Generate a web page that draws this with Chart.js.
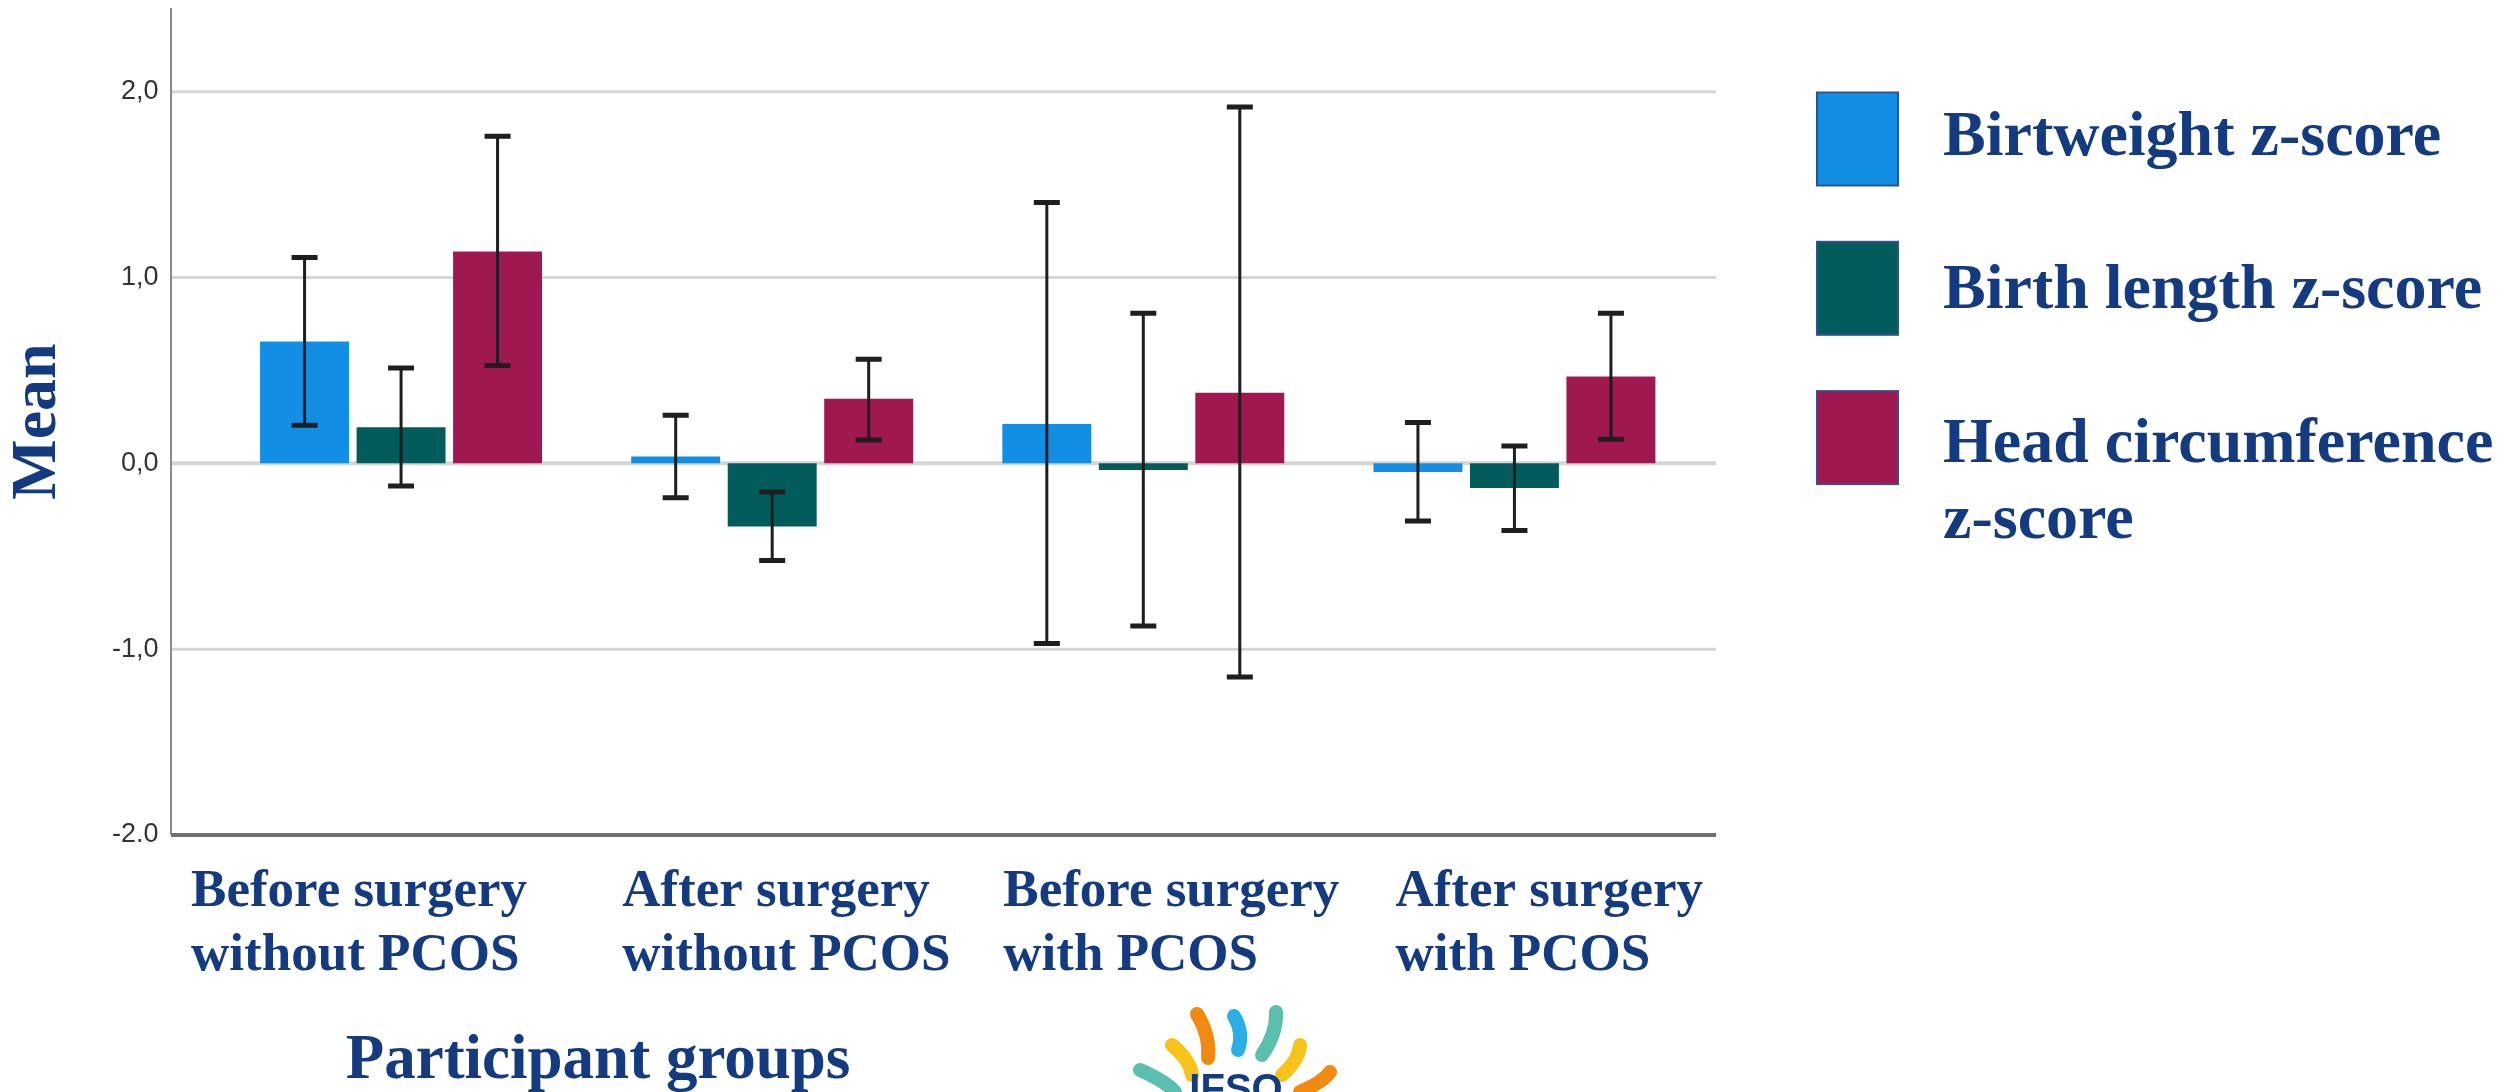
<!DOCTYPE html>
<html>
<head>
<meta charset="utf-8">
<script src="https://cdn.jsdelivr.net/npm/chart.js@4.4.0/dist/chart.umd.min.js"></script>
<style>
  html, body { margin: 0; padding: 0; background: #fff; }
  canvas { display: block; }
</style>
</head>
<body>
<canvas id="myChart" width="2502" height="1092" style="width:2502px;height:1092px"></canvas>
<script>
// --- data ---
const groups = [
  ['Before surgery', 'without PCOS'],
  ['After surgery', 'without PCOS'],
  ['Before surgery', 'with PCOS'],
  ['After surgery', 'with PCOS']
];
const seriesNames = ['Birtweight z-score', 'Birth length z-score', 'Head circumference z-score'];
const legendLines = [['Birtweight z-score'], ['Birth length z-score'], ['Head circumference', 'z-score']];

const weightMean = [0.655, 0.036, 0.212, -0.047];
const weightLow  = [0.205, -0.185, -0.97, -0.31];
const weightHigh = [1.108, 0.259, 1.404, 0.219];

const lengthMean = [0.194, -0.34, -0.036, -0.133];
const lengthLow  = [-0.122, -0.523, -0.876, -0.362];
const lengthHigh = [0.513, -0.154, 0.808, 0.093];

const headMean = [1.14, 0.347, 0.38, 0.467];
const headLow  = [0.526, 0.126, -1.15, 0.129];
const headHigh = [1.76, 0.56, 1.917, 0.808];

const yTicks = [-2, -1, 0, 1, 2];
const yTickLabels = ['-2.0', '-1,0', '0,0', '1,0', '2,0'];
const yAxisTitle = 'Mean';
const xAxisTitle = 'Participant groups';

// --- styles ---
const navy = '#143a80';
const serif = '"Liberation Serif", "Times New Roman", serif';
const colors = ['#128ee5', '#035c5c', '#a01850'];
const labelShift = [-210, -150, -140, -119];   // category labels are left aligned, hand placed
const axisLeft = 171, axisRight = 1716;

const plotDecor = {
  id: 'plotDecor',
  beforeDatasetsDraw(chart) {
    const { ctx, scales: { y } } = chart;
    ctx.save();
    yTicks.forEach(v => {
      const py = y.getPixelForValue(v);
      ctx.beginPath();
      if (v === yTicks[0]) {
        ctx.strokeStyle = '#707070';
        ctx.lineWidth = 4;
      } else {
        ctx.strokeStyle = '#d5d5d5';
        ctx.lineWidth = v === 0 ? 4 : 3;
      }
      ctx.moveTo(axisLeft, py);
      ctx.lineTo(axisRight, py);
      ctx.stroke();
    });
    ctx.beginPath();
    ctx.strokeStyle = '#8a8a8a';
    ctx.lineWidth = 2;
    ctx.moveTo(axisLeft, y.top);
    ctx.lineTo(axisLeft, y.getPixelForValue(yTicks[0]));
    ctx.stroke();
    ctx.restore();
  },
  afterDatasetsDraw(chart) {
    const { ctx, scales: { y } } = chart;
    ctx.save();
    ctx.strokeStyle = '#1e1e1e';
    chart.data.datasets.forEach((ds, d) => {
      const meta = chart.getDatasetMeta(d);
      meta.data.forEach((bar, i) => {
        const top = y.getPixelForValue(ds.errHigh[i]);
        const bot = y.getPixelForValue(ds.errLow[i]);
        ctx.lineWidth = 3;
        ctx.beginPath();
        ctx.moveTo(bar.x, top);
        ctx.lineTo(bar.x, bot);
        ctx.stroke();
        ctx.lineWidth = 5;
        ctx.beginPath();
        ctx.moveTo(bar.x - 13, top); ctx.lineTo(bar.x + 13, top);
        ctx.moveTo(bar.x - 13, bot); ctx.lineTo(bar.x + 13, bot);
        ctx.stroke();
      });
    });
    ctx.restore();
  },
  afterDraw(chart) {
    const { ctx, scales: { x } } = chart;
    ctx.save();
    // category labels
    ctx.fillStyle = navy;
    ctx.font = 'bold 53px ' + serif;
    ctx.textAlign = 'left';
    ctx.textBaseline = 'alphabetic';
    groups.forEach((lines, i) => {
      const lx = x.getPixelForValue(i) + labelShift[i];
      lines.forEach((t, k) => ctx.fillText(t, lx, 906 + k * 64));
    });
    // x axis title
    ctx.font = 'bold 63px ' + serif;
    ctx.textAlign = 'center';
    ctx.fillText(xAxisTitle, 598, 1078);

    // legend
    ctx.textAlign = 'left';
    ctx.font = 'bold 64px ' + serif;
    chart.data.datasets.forEach((ds, d) => {
      const by = 92.5 + d * 149.3;
      ctx.fillStyle = ds.backgroundColor;
      ctx.fillRect(1817, by, 81, 93);
      ctx.strokeStyle = '#2f528f';
      ctx.lineWidth = 2;
      ctx.strokeRect(1817, by, 81, 93);
      ctx.fillStyle = navy;
      legendLines[d].forEach((t, k) => ctx.fillText(t, 1943, 154.6 + d * 153.6 + k * 76));
    });

    // small conference logo at the bottom
    const flames = [
      ['#f08a12', 1197, 1014, 1208, 1058],
      ['#2aaee6', 1234, 1016, 1238, 1050],
      ['#5bbfae', 1276, 1012, 1262, 1055],
      ['#f7c21a', 1172, 1045, 1192, 1075],
      ['#f7c21a', 1300, 1045, 1282, 1075],
      ['#5bbfae', 1140, 1070, 1175, 1092],
      ['#f08a12', 1330, 1072, 1300, 1092]
    ];
    ctx.lineCap = 'round';
    flames.forEach(([c, x1, y1, x2, y2]) => {
      ctx.strokeStyle = c;
      ctx.lineWidth = 14;
      ctx.beginPath();
      ctx.moveTo(x1, y1);
      ctx.quadraticCurveTo((x1 + x2) / 2 + 8, (y1 + y2) / 2, x2, y2);
      ctx.stroke();
    });
    ctx.fillStyle = navy;
    ctx.font = 'bold 40px "Liberation Sans", Arial, sans-serif';
    ctx.textAlign = 'center';
    ctx.fillText('IFSO', 1236, 1102);
    ctx.restore();
  }
};

const data = {
  labels: groups,
  datasets: [
    { label: seriesNames[0], data: weightMean, errLow: weightLow, errHigh: weightHigh, backgroundColor: colors[0] },
    { label: seriesNames[1], data: lengthMean, errLow: lengthLow, errHigh: lengthHigh, backgroundColor: colors[1] },
    { label: seriesNames[2], data: headMean, errLow: headLow, errHigh: headHigh, backgroundColor: colors[2] }
  ]
};

const config = {
  type: 'bar',
  data: data,
  options: {
    responsive: false,
    animation: false,
    devicePixelRatio: 1,
    categoryPercentage: 0.78,
    barPercentage: 0.922,
    layout: { padding: { left: 0, top: 8, right: 802, bottom: 257 } },
    scales: {
      x: { display: false },
      y: {
        min: -2,
        max: 2.45,
        afterFit(scale) {
          scale.width = 215.5;
          scale.paddingTop = 0;
          scale.paddingBottom = 0;
        },
        grid: { display: false, drawTicks: false },
        border: { display: false },
        ticks: {
          stepSize: 1,
          includeBounds: false,
          padding: 57,
          color: '#333',
          font: { family: '"Liberation Sans", Arial, sans-serif', size: 27 },
          callback: v => {
            const i = yTicks.indexOf(v);
            return i >= 0 ? yTickLabels[i] : '';
          }
        },
        title: {
          display: true,
          text: yAxisTitle,
          color: navy,
          padding: 0,
          font: { family: serif, size: 64, weight: 'bold' }
        }
      }
    },
    plugins: {
      legend: { display: false },
      tooltip: { enabled: false }
    }
  },
  plugins: [plotDecor]
};

const ctx = document.getElementById('myChart');
const myChart = new Chart(ctx, config);
</script>
</body>
</html>
